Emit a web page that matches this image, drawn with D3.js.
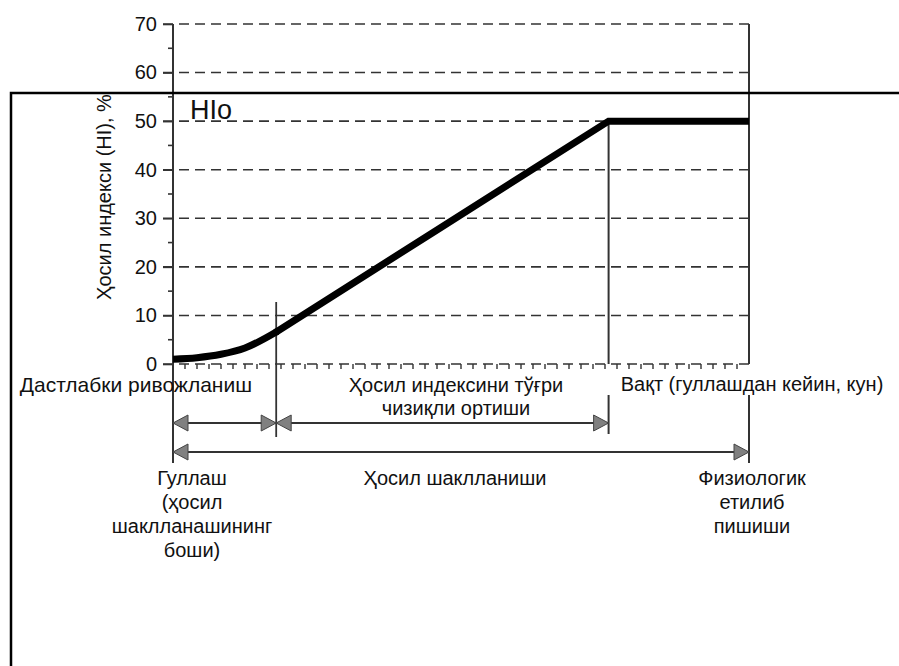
<!DOCTYPE html>
<html>
<head>
<meta charset="utf-8">
<script src="https://cdn.jsdelivr.net/npm/d3@7/dist/d3.min.js"></script>
<style>
  html, body { margin: 0; padding: 0; background: #fff; }
  svg { display: block; }
  text { font-family: "Liberation Sans", Arial, sans-serif; fill: #111; }
</style>
</head>
<body>
<svg id="chart" width="899" height="666"></svg>
<script>
// ---- data ----
const yTicks = [0, 10, 20, 30, 40, 50, 60, 70];
const yMinorTicks = [5, 15, 25, 35, 45, 55, 65];
const days = [0, 2, 4, 6, 8.6, 22, 36.3, 48];
const hiValues = [1.0, 1.3, 2.0, 3.3, 6.6, 27.6, 50, 50];
const phaseDays = [0, 8.6, 36.3, 48];   // flowering, end of lag, HI max, maturity
const hiMax = 50;
const yTitle = "Ҳосил индекси (HI), %";
const hiLabel = "HIo";
const phaseLabels = ["Дастлабки ривожланиш", "Ҳосил индексини тўғри", "чизиқли ортиши"];
const timeLabel = "Вақт (гуллашдан кейин, кун)";
const flowerLabel = ["Гуллаш", "(ҳосил", "шаклланашининг", "боши)"];
const yieldLabel = "Ҳосил шаклланиши";
const maturityLabel = ["Физиологик", "етилиб", "пишиши"];

// ---- layout ----
const svg = d3.select("#chart");
const x = d3.scaleLinear().domain([0, 48]).range([173, 749]);
const y = d3.scaleLinear().domain([0, 70]).range([364, 24]);
const ink = "#333";
const dash = "10,6";

// grid lines (dashed)
svg.append("g").selectAll("line").data(yTicks.filter(d => d > 0)).join("line")
  .attr("x1", 163).attr("x2", x(48))
  .attr("y1", d => y(d)).attr("y2", d => y(d))
  .attr("stroke", ink).attr("stroke-width", 1.6).attr("stroke-dasharray", dash);

// x axis baseline (dashed) with small ticks
svg.append("line").attr("x1", 163).attr("x2", x(48)).attr("y1", y(0)).attr("y2", y(0))
  .attr("stroke", ink).attr("stroke-width", 1.6).attr("stroke-dasharray", dash);
svg.append("g").selectAll("line").data(d3.range(1, 48)).join("line")
  .attr("x1", d => x(d)).attr("x2", d => x(d))
  .attr("y1", y(0)).attr("y2", y(0) + 5)
  .attr("stroke", ink).attr("stroke-width", 1.4);

// y axis
const yAxis = d3.axisLeft(y).tickValues(yTicks).tickSize(10).tickPadding(6);
const gy = svg.append("g").attr("transform", `translate(${x(0)},0)`).call(yAxis);
gy.select(".domain").remove();
gy.selectAll(".tick line").attr("stroke", ink).attr("stroke-width", 1.6);
gy.selectAll(".tick text").style("font-size", "20px").attr("fill", "#111")
  .style("font-family", '"Liberation Sans", Arial, sans-serif');
svg.append("g").selectAll("line").data(yMinorTicks).join("line")
  .attr("x1", x(0) - 5).attr("x2", x(0))
  .attr("y1", d => y(d)).attr("y2", d => y(d))
  .attr("stroke", ink).attr("stroke-width", 1.6);

// vertical lines
svg.append("line").attr("x1", x(0)).attr("x2", x(0)).attr("y1", y(70)).attr("y2", 463)
  .attr("stroke", ink).attr("stroke-width", 2);
svg.append("line").attr("x1", x(48)).attr("x2", x(48)).attr("y1", y(70)).attr("y2", y(0))
  .attr("stroke", ink).attr("stroke-width", 2);
svg.append("line").attr("x1", x(48)).attr("x2", x(48)).attr("y1", 395).attr("y2", 463)
  .attr("stroke", ink).attr("stroke-width", 2);
svg.append("line").attr("x1", x(phaseDays[2])).attr("x2", x(phaseDays[2])).attr("y1", y(hiMax)).attr("y2", y(0))
  .attr("stroke", ink).attr("stroke-width", 2);
svg.append("line").attr("x1", x(phaseDays[2])).attr("x2", x(phaseDays[2])).attr("y1", 395).attr("y2", 434)
  .attr("stroke", ink).attr("stroke-width", 2);
svg.append("line").attr("x1", x(phaseDays[1])).attr("x2", x(phaseDays[1])).attr("y1", 302).attr("y2", 437)
  .attr("stroke", ink).attr("stroke-width", 1.8);

// HI curve: smooth lag phase, then straight linear phase and plateau
const pts = days.map((d, i) => [d, hiValues[i]]);
const lagPts = pts.filter(p => p[0] <= phaseDays[1]);
const linPts = pts.filter(p => p[0] >= phaseDays[1]);
svg.append("path").datum(lagPts)
  .attr("d", d3.line().x(d => x(d[0])).y(d => y(d[1])).curve(d3.curveMonotoneX))
  .attr("fill", "none").attr("stroke", "#000").attr("stroke-width", 7);
svg.append("path").datum(linPts)
  .attr("d", d3.line().x(d => x(d[0])).y(d => y(d[1])))
  .attr("fill", "none").attr("stroke", "#000").attr("stroke-width", 7)
  .attr("stroke-linejoin", "miter");
svg.append("circle").datum(linPts[0])
  .attr("cx", d => x(d[0])).attr("cy", d => y(d[1])).attr("r", 3.5).attr("fill", "#000");

// arrows
function arrow(d0, d1, yy) {
  const x0 = x(d0), x1 = x(d1), L = 15, H = 8;
  svg.append("line").attr("x1", x0).attr("x2", x1).attr("y1", yy).attr("y2", yy)
    .attr("stroke", ink).attr("stroke-width", 2);
  svg.append("path").attr("d", `M${x0},${yy} L${x0 + L},${yy - H} L${x0 + L},${yy + H} Z`)
    .attr("fill", "#808080").attr("stroke", "#444").attr("stroke-width", 1);
  svg.append("path").attr("d", `M${x1},${yy} L${x1 - L},${yy - H} L${x1 - L},${yy + H} Z`)
    .attr("fill", "#808080").attr("stroke", "#444").attr("stroke-width", 1);
}
arrow(phaseDays[0], phaseDays[1], 423);
arrow(phaseDays[1], phaseDays[2], 423);
arrow(phaseDays[0], phaseDays[3], 452);

// texts
const fs = "20px";
svg.append("text").attr("x", 190).attr("y", 119).style("font-size", "27px").text(hiLabel);
svg.append("text").attr("transform", `translate(111,197) rotate(-90)`)
  .attr("text-anchor", "middle").style("font-size", "20px").text(yTitle);
svg.append("text").attr("x", 252).attr("y", 392).attr("text-anchor", "end").style("font-size", "21px").text(phaseLabels[0]);
svg.append("text").attr("x", 456).attr("y", 392).attr("text-anchor", "middle").style("font-size", fs).text(phaseLabels[1]);
svg.append("text").attr("x", 456).attr("y", 415).attr("text-anchor", "middle").style("font-size", fs).text(phaseLabels[2]);
svg.append("text").attr("x", 752).attr("y", 391).attr("text-anchor", "middle").style("font-size", fs).text(timeLabel);
svg.append("text").attr("x", 455).attr("y", 485).attr("text-anchor", "middle").style("font-size", fs).text(yieldLabel);
flowerLabel.forEach((t, i) => svg.append("text").attr("x", 192).attr("y", 485 + i * 24)
  .attr("text-anchor", "middle").style("font-size", fs).text(t));
maturityLabel.forEach((t, i) => svg.append("text").attr("x", 752).attr("y", 485 + i * 24)
  .attr("text-anchor", "middle").style("font-size", fs).text(t));

// overlaid frame
svg.append("rect").attr("x", 11).attr("y", 93).attr("width", 1000).attr("height", 1000)
  .attr("fill", "none").attr("stroke", "#000").attr("stroke-width", 2.5);
</script>
</body>
</html>
